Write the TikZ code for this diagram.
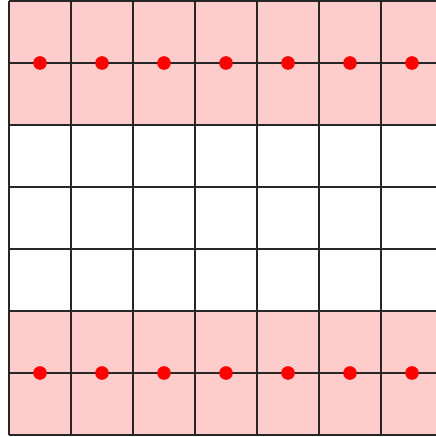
\documentclass[tikz,border=0pt]{standalone}
\usepackage{xcolor}
\usepackage{tikz}
\definecolor{cell}{HTML}{FFCCCC}
\definecolor{dotred}{HTML}{FF0000}

\begin{document}
\begin{tikzpicture}[
    x=1cm, y=1cm,
    band/.style={fill=cell, draw=none},
    gridline/.style={draw=black!85, line width=0.55pt},
    site/.style={circle, fill=dotred, inner sep=0pt, minimum size=0.22cm},
  ]
  \useasboundingbox (-0.145,-0.032) rectangle (6.887,7.016);
  \clip (-0.145,-0.032) rectangle (6.887,7.016);

  % shaded rows
  \fill[band] (0,5) rectangle (7,7);
  \fill[band] (0,0) rectangle (7,2);

  % grid
  \foreach \i in {0,...,7} {
    \draw[gridline] (\i,0) -- (\i,7);
    \draw[gridline] (0,\i) -- (7,\i);
  }

  % sites
  \foreach \i in {0,...,6} {
    \node[site] (top\i) at (\i+0.5,6) {};
    \node[site] (bot\i) at (\i+0.5,1) {};
  }
\end{tikzpicture}
\end{document}
